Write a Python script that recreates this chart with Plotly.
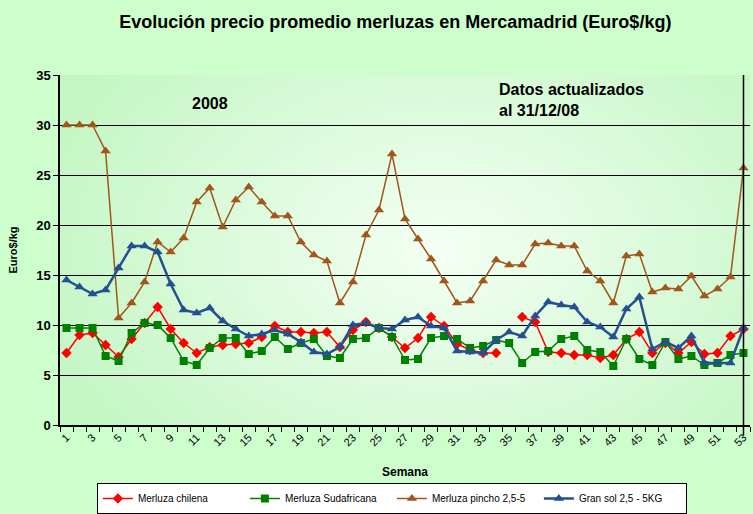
import base64, zlib, struct
import plotly.graph_objects as go

weeks = list(range(1, 54))

chilena = [7.2, 9.0, 9.2, 8.0, 6.8, 8.6, 10.2, 11.8, 9.6, 8.2,
           7.2, 7.8, 8.0, 8.1, 8.2, 8.8, 9.9, 9.3, 9.3, 9.2,
           9.3, 7.8, 9.5, 10.3, 9.7, 8.8, 7.7, 8.7, 10.8, 9.9,
           8.1, 7.5, 7.2, 7.2, None, 10.8, 10.3, 7.3, 7.2, 7.0,
           7.0, 6.7, 7.0, 8.6, 9.3, 7.2, 8.2, 7.2, 8.3, 7.1,
           7.2, 8.9, 9.6]

sudafricana = [9.7, 9.7, 9.7, 6.9, 6.4, 9.2, 10.2, 10.0, 8.7, 6.4,
               6.0, 7.7, 8.7, 8.7, 7.1, 7.4, 8.8, 7.6, 8.2, 8.6,
               6.9, 6.7, 8.6, 8.7, 9.7, 8.8, 6.5, 6.6, 8.7, 8.9,
               8.6, 7.7, 7.9, 8.5, 8.2, 6.2, 7.3, 7.4, 8.6, 8.9,
               7.5, 7.3, 5.9, 8.6, 6.6, 6.0, 8.3, 6.6, 6.9, 6.0,
               6.2, 7.0, 7.2]

pincho = [30.0, 30.0, 30.0, 27.4, 10.7, 12.2, 14.3, 18.3, 17.3, 18.7,
          22.3, 23.7, 19.8, 22.5, 23.8, 22.3, 20.9, 20.9, 18.3, 17.0,
          16.4, 12.2, 14.3, 19.0, 21.5, 27.1, 20.6, 18.6, 16.6, 14.4,
          12.2, 12.4, 14.4, 16.5, 16.0, 16.0, 18.1, 18.2, 17.9, 17.9,
          15.4, 14.4, 12.2, 16.9, 17.1, 13.3, 13.7, 13.6, 14.9, 12.9,
          13.6, 14.8, 25.7]

gran_sol = [14.5, 13.8, 13.1, 13.5, 15.7, 17.9, 17.9, 17.3, 14.1, 11.5,
            11.2, 11.7, 10.4, 9.6, 8.9, 9.1, 9.5, 9.1, 8.3, 7.3,
            7.1, 7.8, 10.0, 10.2, 9.7, 9.6, 10.5, 10.8, 9.9, 9.7,
            7.4, 7.3, 7.2, 8.5, 9.3, 8.9, 10.9, 12.3, 12.0, 11.8,
            10.3, 9.8, 8.8, 11.6, 12.8, 7.6, 8.3, 7.7, 8.9, 6.2,
            6.2, 6.2, 9.7]

tick_weeks = list(range(1, 54, 2))


def gradient_png(w, h, c_center, c_edge):
    raw = bytearray()
    for j in range(h):
        raw.append(0)
        for i in range(w):
            dx = abs((i + 0.5) / w - 0.55) / 0.55
            dy = abs((j + 0.5) / h - 0.5) / 0.5
            d = min(1.0, (dx ** 2 * 0.8 + dy ** 2 * 0.35) ** 0.5)
            for k in range(3):
                raw.append(int(round(c_center[k] + (c_edge[k] - c_center[k]) * d)))

    def chunk(tag, data):
        c = tag + data
        return struct.pack(">I", len(data)) + c + struct.pack(">I", zlib.crc32(c) & 0xffffffff)

    png = b"\x89PNG\r\n\x1a\n"
    png += chunk(b"IHDR", struct.pack(">IIBBBBB", w, h, 8, 2, 0, 0, 0))
    png += chunk(b"IDAT", zlib.compress(bytes(raw), 9))
    png += chunk(b"IEND", b"")
    return "data:image/png;base64," + base64.b64encode(png).decode()


bg = gradient_png(160, 80, (244, 255, 244), (196, 246, 196))

fig = go.Figure()

fig.add_trace(go.Scatter(x=weeks, y=chilena, name="Merluza chilena", mode="lines+markers",
                         line=dict(color="#FF0000", width=1.5),
                         marker=dict(symbol="diamond", size=8, color="#FF0000"),
                         connectgaps=False))
fig.add_trace(go.Scatter(x=weeks, y=sudafricana, name="Merluza Sudafricana", mode="lines+markers",
                         line=dict(color="#008000", width=1.5),
                         marker=dict(symbol="square", size=8, color="#008000")))
fig.add_trace(go.Scatter(x=weeks, y=pincho, name="Merluza pincho 2,5-5", mode="lines+markers",
                         line=dict(color="#A0561C", width=1.5),
                         marker=dict(symbol="triangle-up", size=9, color="#A0561C")))
fig.add_trace(go.Scatter(x=weeks, y=gran_sol, name="Gran sol 2,5 - 5KG", mode="lines+markers",
                         line=dict(color="#24508F", width=2.5),
                         marker=dict(symbol="triangle-up", size=9, color="#24508F")))

fig.add_shape(type="line", xref="x", yref="paper", x0=53, x1=53, y0=-0.03, y1=1,
              line=dict(color="black", width=1.5))

fig.add_annotation(text="<b>2008</b>", xref="paper", yref="paper", x=0.217, y=0.918,
                   showarrow=False, font=dict(size=16, color="black"), xanchor="center", yanchor="middle")
fig.add_annotation(text="<b>Datos actualizados<br>al 31/12/08</b>", xref="paper", yref="paper",
                   x=0.633, y=0.99, showarrow=False, align="left",
                   font=dict(size=16, color="black"), xanchor="left", yanchor="top")

fig.update_layout(
    width=753, height=514,
    margin=dict(l=60, r=3, t=75, b=89, autoexpand=False),
    paper_bgcolor="#CCFFCC",
    plot_bgcolor="rgba(0,0,0,0)",
    font=dict(family="Liberation Sans, Arial, sans-serif", color="black"),
    title=dict(text="<b>Evolución precio promedio merluzas en Mercamadrid (Euro$/kg)</b>",
               x=0.525, xanchor="center", y=0.957, yanchor="middle",
               font=dict(size=18, color="black")),
    images=[dict(source=bg, xref="paper", yref="paper", x=0, y=1, sizex=1, sizey=1,
                 sizing="stretch", layer="below")],
    showlegend=True,
    legend=dict(orientation="h", x=0.481, y=-0.21, xanchor="center", yanchor="middle",
                bgcolor="white", bordercolor="black", borderwidth=1,
                font=dict(size=10), entrywidth=102, itemwidth=30, tracegroupgap=0),
)

fig.update_xaxes(range=[0.5, 53.5], tickmode="array", tickvals=tick_weeks,
                 ticktext=[str(w) for w in tick_weeks], tickangle=-45,
                 tickfont=dict(size=11, color="black"), ticks="", automargin=False,
                 minor=dict(tickmode="linear", tick0=0.5, dtick=1, ticks="outside",
                            ticklen=5, tickcolor="black", showgrid=False),
                 showline=True, linecolor="black", linewidth=1.5, mirror=False,
                 showgrid=False, zeroline=False,
                 title=dict(text="<b>Semana</b>", font=dict(size=12), standoff=20))

fig.update_yaxes(range=[0, 35], dtick=5, tick0=0, ticks="outside", ticklen=5,
                 tickcolor="black", tickfont=dict(size=13, color="black"), automargin=False,
                 tickprefix="<b>", ticksuffix="</b>",
                 showline=True, linecolor="black", linewidth=1.5,
                 showgrid=True, gridcolor="black", gridwidth=1, zeroline=False,
                 title=dict(text="<b>Euro$/kg</b>", font=dict(size=11), standoff=16))

fig.write_html("out.html", config={"displayModeBar": False},
               post_script="document.body.style.margin='0px';")
